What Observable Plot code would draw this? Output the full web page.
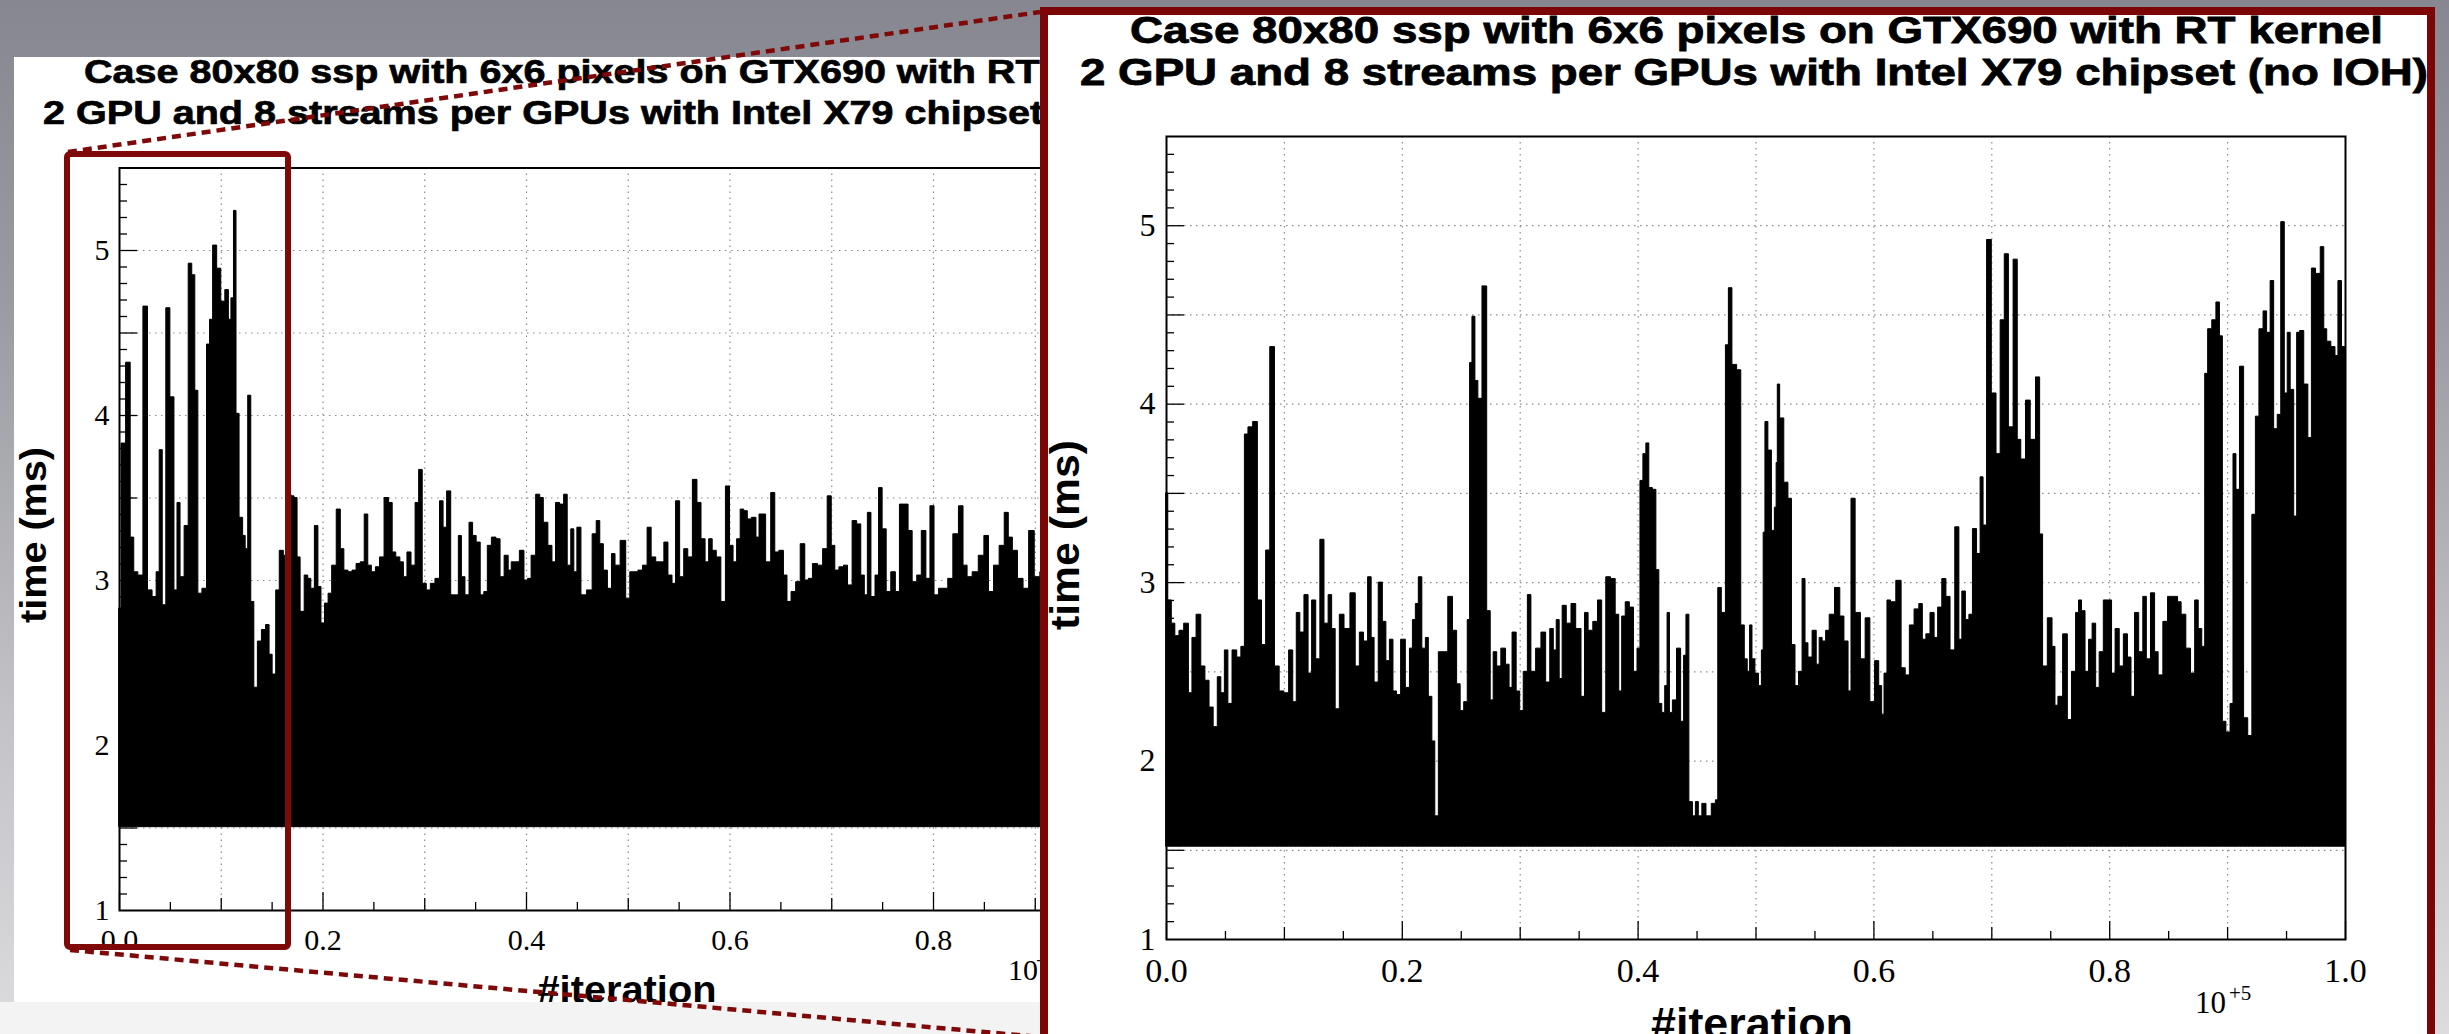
<!DOCTYPE html>
<html><head><meta charset="utf-8">
<script src="https://cdn.jsdelivr.net/npm/d3@7"></script>
<script src="https://cdn.jsdelivr.net/npm/@observablehq/plot@0.6"></script>
<style>
html,body{margin:0;padding:0;}
body{width:2449px;height:1034px;overflow:hidden;position:relative;
 background:linear-gradient(to bottom,#878791 0%,#9b9ba3 30%,#c3c3c8 70%,#dcdcdf 100%);}
.abs{position:absolute;}
#band{left:0;top:1002px;width:1044px;height:32px;background:#f3f3f3;}
#leftPanel{left:14px;top:57px;width:1030px;height:945px;background:#fff;overflow:hidden;}
#inset{left:1040px;top:7px;width:1395px;height:1045px;background:#fff;border:8px solid #7c0606;box-sizing:border-box;overflow:hidden;}
#leftPlot{width:1150px;}
#insetPlot{width:1379px;}
#leftPlot svg, #insetPlot svg{max-width:none !important;}
</style></head>
<body>
<div id="band" class="abs"></div>
<div id="leftPanel" class="abs">
  <div id="leftPlot" class="abs" style="left:0;top:83px"></div>
  <svg id="leftText" class="abs" style="left:-14px;top:-57px" width="2449" height="1034"></svg>
</div>
<svg id="deco" class="abs" style="left:0;top:0" width="2449" height="1034"></svg>
<div id="inset" class="abs">
  <div id="insetPlot" class="abs" style="left:0;top:85px"></div>
  <svg id="insetText" class="abs" style="left:-1048px;top:-15px" width="2449" height="1034"></svg>
</div>
<script>
// ---------- text ----------
const titleLine1 = "Case 80x80 ssp with 6x6 pixels on GTX690 with RT kernel";
const titleLine2 = "2 GPU and 8 streams per GPUs with Intel X79 chipset (no IOH)";
const yTitle = "time (ms)";
const xTitle = "#iteration";
const leftExponent = "+6";
const insetExponent = "+5";

// ---------- ticks ----------
const xLabelTicks = [0, 0.2, 0.4, 0.6, 0.8, 1.0];
const xGridTicks = [0.1, 0.2, 0.3, 0.4, 0.5, 0.6, 0.7, 0.8, 0.9];
const xMidTicks = [0.1, 0.3, 0.5, 0.7, 0.9];
const yLabelTicks = [1, 2, 3, 4, 5];
const yGridTicks = [1.5, 2, 2.5, 3, 3.5, 4, 4.5, 5];
const yHalfTicks = [1.5, 2, 2.5, 3, 3.5, 4, 4.5, 5];

// ---------- left plot (x in units of 10^6 iterations) ----------
const leftFloor = 1.505;
const leftIter = [0.000,0.004,0.009,0.013,0.016,0.021,0.026,0.030,0.035,0.038,0.041,0.044,0.048,0.052,0.056,0.058,0.062,0.066,0.070,0.073,0.076,0.079,0.084,0.088,0.090,0.094,0.098,0.102,0.106,0.109,0.111,0.114,0.116,0.120,0.123,0.125,0.128,0.131,0.134,0.138,0.142,0.146,0.149,0.152,0.156,0.159,0.164,0.168,0.170,0.174,0.176,0.180,0.184,0.187,0.190,0.194,0.197,0.200,0.204,0.207,0.211,0.216,0.219,0.223,0.227,0.231,0.235,0.239,0.243,0.246,0.250,0.254,0.258,0.263,0.267,0.270,0.274,0.278,0.281,0.285,0.289,0.293,0.296,0.300,0.304,0.308,0.313,0.317,0.320,0.324,0.328,0.332,0.335,0.338,0.342,0.346,0.349,0.353,0.357,0.360,0.364,0.368,0.373,0.376,0.381,0.384,0.387,0.391,0.396,0.400,0.403,0.407,0.412,0.415,0.419,0.424,0.427,0.431,0.435,0.439,0.442,0.446,0.448,0.452,0.456,0.463,0.467,0.471,0.474,0.478,0.482,0.486,0.489,0.496,0.500,0.504,0.508,0.512,0.517,0.521,0.525,0.530,0.534,0.537,0.542,0.545,0.549,0.553,0.557,0.561,0.566,0.570,0.574,0.578,0.581,0.585,0.589,0.594,0.598,0.602,0.605,0.609,0.612,0.616,0.619,0.624,0.628,0.630,0.633,0.638,0.643,0.646,0.651,0.655,0.658,0.663,0.667,0.672,0.676,0.679,0.684,0.689,0.694,0.698,0.702,0.705,0.710,0.714,0.718,0.723,0.727,0.731,0.734,0.737,0.741,0.745,0.748,0.752,0.756,0.761,0.765,0.769,0.774,0.777,0.782,0.786,0.791,0.795,0.799,0.803,0.808,0.812,0.817,0.822,0.828,0.831,0.836,0.841,0.848,0.852,0.857,0.862,0.868,0.872,0.876,0.880,0.886,0.891,0.897,0.902,0.908,0.914];
const leftTime = [2.83,3.83,4.32,3.26,3.05,3.03,4.66,2.94,2.90,3.05,3.79,2.85,4.65,4.11,2.94,3.47,3.02,3.33,4.92,4.85,4.15,2.92,2.95,4.43,4.58,5.03,4.89,4.69,4.76,4.58,4.71,5.24,4.01,3.38,3.27,3.19,4.12,2.87,2.35,2.63,2.70,2.73,2.55,2.43,2.94,3.18,3.15,3.52,3.51,3.50,3.14,2.81,3.03,3.01,2.95,3.33,2.96,2.74,2.86,2.92,3.09,3.43,3.19,3.06,3.05,3.06,3.10,3.11,3.40,3.09,3.05,3.08,3.14,3.50,3.47,3.17,3.14,3.11,3.02,3.17,3.09,3.47,3.67,2.98,2.94,2.98,3.01,3.48,3.32,3.54,2.91,2.91,3.27,3.02,2.91,3.35,3.27,3.23,2.91,2.93,3.21,3.26,3.25,3.02,3.15,3.06,3.11,3.11,3.18,3.00,3.01,3.15,3.52,3.50,3.35,3.21,3.11,3.47,3.46,3.52,3.09,3.31,3.05,3.32,2.91,2.94,3.28,3.36,3.22,3.06,2.95,3.16,3.09,3.24,2.89,3.05,3.05,3.06,3.09,3.32,3.14,3.11,3.11,3.23,3.03,2.98,3.48,3.02,3.19,3.14,3.61,3.47,3.25,3.11,3.25,3.18,3.14,2.87,3.57,3.21,3.11,3.25,3.43,3.42,3.37,3.38,3.26,3.40,3.40,3.11,3.53,3.17,3.18,3.03,2.87,2.93,2.99,3.22,3.00,3.01,3.10,3.09,3.19,3.51,3.21,3.06,3.08,3.09,2.97,3.36,3.34,3.03,2.91,3.41,2.90,3.03,3.56,3.31,2.93,3.05,2.93,3.46,3.46,3.30,2.99,3.03,3.30,3.01,3.45,2.91,2.95,2.95,3.01,3.28,3.45,3.09,3.02,3.05,3.15,3.27,2.93,3.09,3.21,3.41,3.26,3.18,3.01,2.95,3.30,3.02,3.05,3.10];

// ---------- inset plot (x in units of 10^5 iterations) ----------
const insetFloor = 1.52;
const insetIter = [0.000,0.003,0.006,0.009,0.013,0.017,0.021,0.023,0.028,0.031,0.035,0.038,0.042,0.045,0.048,0.051,0.054,0.058,0.062,0.065,0.068,0.071,0.076,0.079,0.083,0.086,0.090,0.094,0.098,0.102,0.106,0.109,0.112,0.115,0.119,0.122,0.125,0.129,0.132,0.136,0.139,0.142,0.145,0.149,0.153,0.159,0.162,0.166,0.169,0.173,0.175,0.178,0.182,0.185,0.188,0.191,0.194,0.197,0.201,0.205,0.208,0.210,0.213,0.215,0.219,0.221,0.224,0.227,0.229,0.233,0.237,0.241,0.245,0.248,0.251,0.254,0.257,0.258,0.261,0.263,0.266,0.270,0.274,0.276,0.279,0.282,0.286,0.290,0.292,0.295,0.299,0.301,0.305,0.308,0.311,0.316,0.320,0.324,0.327,0.330,0.332,0.335,0.337,0.342,0.345,0.350,0.354,0.356,0.360,0.364,0.368,0.371,0.375,0.379,0.383,0.385,0.388,0.391,0.395,0.398,0.401,0.403,0.406,0.408,0.411,0.414,0.417,0.419,0.422,0.424,0.426,0.428,0.431,0.435,0.438,0.440,0.442,0.445,0.448,0.450,0.453,0.456,0.460,0.465,0.467,0.469,0.473,0.476,0.478,0.482,0.486,0.489,0.492,0.494,0.496,0.498,0.501,0.504,0.506,0.507,0.509,0.512,0.515,0.517,0.518,0.519,0.522,0.526,0.529,0.532,0.535,0.538,0.541,0.543,0.546,0.550,0.553,0.555,0.558,0.561,0.564,0.570,0.573,0.577,0.580,0.582,0.587,0.591,0.595,0.599,0.603,0.606,0.608,0.610,0.613,0.616,0.622,0.625,0.629,0.632,0.637,0.640,0.643,0.646,0.650,0.653,0.656,0.660,0.663,0.667,0.671,0.674,0.676,0.680,0.682,0.686,0.689,0.692,0.694,0.698,0.702,0.706,0.709,0.713,0.716,0.721,0.723,0.727,0.731,0.735,0.740,0.742,0.745,0.750,0.753,0.755,0.758,0.763,0.766,0.770,0.773,0.775,0.778,0.781,0.784,0.787,0.790,0.793,0.797,0.801,0.803,0.807,0.810,0.814,0.817,0.820,0.823,0.827,0.830,0.833,0.837,0.840,0.843,0.848,0.851,0.857,0.859,0.863,0.867,0.871,0.874,0.877,0.880,0.882,0.885,0.889,0.892,0.895,0.897,0.901,0.904,0.906,0.909,0.912,0.916,0.919,0.923,0.925,0.929,0.932,0.935,0.938,0.941,0.944,0.947,0.950,0.952,0.955,0.958,0.960,0.963,0.967,0.970,0.973,0.977,0.981,0.983,0.986,0.990,0.993,0.995,0.999,1.000];
const insetTime = [3.50,2.90,2.77,2.70,2.73,2.77,2.38,2.69,2.82,2.53,2.45,2.30,2.19,2.47,2.38,2.62,2.32,2.62,2.58,2.64,3.83,3.87,3.90,2.90,2.65,3.18,4.32,2.53,2.39,2.38,2.62,2.33,2.83,2.72,2.93,2.49,2.90,2.57,3.24,2.77,2.93,2.74,2.29,2.82,2.74,2.94,2.53,2.72,2.67,3.03,2.69,2.44,3.00,2.78,2.56,2.68,2.39,2.37,2.68,2.41,2.63,2.79,2.88,3.03,2.63,2.69,2.36,2.11,1.69,2.61,2.61,2.92,2.73,2.43,2.28,2.33,2.79,4.23,4.49,4.13,4.03,4.66,2.84,2.34,2.61,2.53,2.63,2.54,2.41,2.72,2.39,2.28,2.50,2.93,2.50,2.63,2.72,2.44,2.74,2.62,2.79,2.46,2.87,2.77,2.88,2.74,2.36,2.83,2.73,2.78,2.90,2.27,3.03,3.02,2.82,2.39,2.81,2.89,2.86,2.50,2.63,3.57,3.72,3.78,3.53,3.52,3.07,2.32,2.27,2.42,2.83,2.27,2.34,2.63,2.22,2.59,2.82,1.77,1.69,1.77,1.69,1.76,1.69,1.76,1.78,2.97,2.83,4.33,4.65,4.22,4.19,2.76,2.57,2.50,2.76,2.57,2.49,2.42,2.62,3.28,3.90,3.74,3.29,3.42,3.67,4.11,3.92,3.56,3.47,2.65,2.42,2.50,3.02,2.66,2.58,2.73,2.54,2.69,2.67,2.73,2.82,2.97,2.81,2.67,2.39,3.47,2.83,2.57,2.80,2.33,2.56,2.42,2.26,2.49,2.90,2.89,3.01,2.52,2.48,2.76,2.85,2.88,2.68,2.71,2.83,2.69,2.86,3.02,2.92,2.62,3.31,2.68,2.95,2.79,2.82,3.30,3.16,3.59,3.32,4.92,4.06,3.72,4.47,4.84,3.87,4.81,3.80,3.69,4.02,3.80,4.15,3.27,2.53,2.80,2.64,2.31,2.36,2.71,2.23,2.50,2.83,2.90,2.84,2.50,2.68,2.77,2.41,2.61,2.90,2.90,2.49,2.74,2.53,2.71,2.58,2.36,2.83,2.61,2.92,2.57,2.94,2.61,2.48,2.78,2.92,2.92,2.89,2.82,2.63,2.49,2.90,2.74,2.64,4.17,4.42,4.47,4.57,4.38,2.22,2.16,2.32,3.72,3.52,4.21,2.24,2.14,3.38,3.93,4.42,4.52,4.40,4.69,3.86,3.94,5.02,4.06,4.40,4.08,3.37,4.40,4.41,4.11,3.81,4.76,4.73,4.88,4.42,4.35,4.32,4.27,4.69,4.32,4.32];

// ---------- plot builder ----------
function rootPlot(iter, time, floor, cfg) {
  const data = iter.map((x, i) => ({x, t: time[i]}));
  const serif = "'Liberation Serif','Times New Roman',serif";
  return Plot.plot({
    width: cfg.width, height: cfg.height,
    marginLeft: cfg.ml, marginRight: cfg.mr, marginTop: cfg.mt, marginBottom: cfg.mb,
    x: {domain: [0, 1]},
    y: {domain: [1, 5.5]},
    style: {fontFamily: serif, color: "black", background: "transparent", overflow: "visible", maxWidth: "none"},
    marks: [
      Plot.gridX({ticks: xGridTicks, stroke: "#8a8a8a", strokeOpacity: 1, strokeWidth: 1.2, strokeDasharray: "1.5,4.5"}),
      Plot.gridY({ticks: yGridTicks, stroke: "#8a8a8a", strokeOpacity: 1, strokeWidth: 1.2, strokeDasharray: "1.5,4.5"}),
      Plot.areaY(data, {x: "x", y1: () => floor, y2: "t", curve: "step", fill: "black", stroke: "black", strokeWidth: 1}),
      Plot.axisX({anchor: "bottom", ticks: d3.range(0.05, 1, 0.1), tickSize: -8, fill: "none", label: null, strokeWidth: 1.3}),
      Plot.axisX({anchor: "bottom", ticks: xMidTicks, tickSize: -12, fill: "none", label: null, strokeWidth: 1.3}),
      Plot.axisX({anchor: "bottom", ticks: xLabelTicks, tickSize: -18, fill: "none", label: null, strokeWidth: 1.3}),
      Plot.axisX({anchor: "bottom", ticks: xLabelTicks, tickSize: 0, tickPadding: cfg.xPad, fontSize: cfg.xFont, tickFormat: d3.format(".1f"), label: null}),
      Plot.axisY({anchor: "left", ticks: d3.range(1.1, 5.5, 0.1).filter(v => Math.abs(v*2 - Math.round(v*2)) > 0.01), tickSize: -8, fill: "none", label: null, strokeWidth: 1.3}),
      Plot.axisY({anchor: "left", ticks: yHalfTicks, tickSize: -18, fill: "none", label: null, strokeWidth: 1.3}),
      Plot.axisY({anchor: "left", ticks: yLabelTicks, tickSize: 0, tickPadding: cfg.yPad, fontSize: cfg.yFont, tickFormat: d => String(d), label: null}),
      Plot.frame({stroke: "black", strokeWidth: 2})
    ]
  });
}

document.getElementById("leftPlot").append(rootPlot(leftIter, leftTime, leftFloor,
  {width: 1150, height: 862, ml: 105, mr: 27.5, mt: 27.5, mb: 92, xPad: 18, xFont: 30, yPad: 10, yFont: 30}));
document.getElementById("insetPlot").append(rootPlot(insetIter, insetTime, insetFloor,
  {width: 1379, height: 934, ml: 118, mr: 82, mt: 36, mb: 95, xPad: 18, xFont: 34, yPad: 11, yFont: 32}));

// ---------- text overlays ----------
const sans = "'Liberation Sans',Arial,Helvetica,sans-serif";
const serifF = "'Liberation Serif','Times New Roman',serif";
function T(x, y, s, o) {
  const attrs = [
    `font-family="${o.family || sans}"`, `font-size="${o.size}"`, `font-weight="${o.weight || "bold"}"`,
    `text-anchor="${o.anchor || "start"}"`, `fill="black"`
  ];
  if (o.stroke) attrs.push(`stroke="black" stroke-width="${o.stroke}"`);
  if (o.len) attrs.push(`textLength="${o.len}" lengthAdjust="spacingAndGlyphs"`);
  const tr = o.rotate ? `transform="translate(${x},${y}) rotate(${o.rotate})" x="0" y="0"` : `x="${x}" y="${y}"`;
  return `<text ${tr} ${attrs.join(" ")}>${s}</text>`;
}
document.getElementById("leftText").innerHTML =
  T(84, 83, titleLine1, {size: 34, len: 1083, stroke: 0.7}) +
  T(43, 124, titleLine2, {size: 34, len: 1167, stroke: 0.7}) +
  T(46, 535, yTitle, {size: 36, len: 176, anchor: "middle", rotate: -90}) +
  T(627, 1003, xTitle, {size: 39, anchor: "middle", len: 179}) +
  T(1008, 980, "10", {size: 30, weight: "normal", family: serifF}) +
  T(1036, 968, leftExponent, {size: 21, weight: "normal", family: serifF});
document.getElementById("insetText").innerHTML =
  T(1130, 43, titleLine1, {size: 37, len: 1253, stroke: 0.8}) +
  T(1080, 85, titleLine2, {size: 37, len: 1348, stroke: 0.8}) +
  T(1079, 535, yTitle, {size: 40, len: 190, anchor: "middle", rotate: -90}) +
  T(1752, 1039, xTitle, {size: 45, anchor: "middle", len: 202}) +
  T(2195, 1013, "10", {size: 31, weight: "normal", family: serifF}) +
  T(2229, 1000, insetExponent, {size: 21, weight: "normal", family: serifF});

// ---------- zoom callout decorations ----------
document.getElementById("deco").innerHTML =
  `<rect x="67" y="154" width="221" height="793" rx="3" fill="none" stroke="#7f0808" stroke-width="6"/>` +
  `<line x1="68" y1="152" x2="1040" y2="12" stroke="#7f0808" stroke-width="4.5" stroke-dasharray="9,6"/>` +
  `<line x1="70" y1="950" x2="1040" y2="1037" stroke="#7f0808" stroke-width="4.5" stroke-dasharray="9,6"/>`;
</script>
</body></html>
